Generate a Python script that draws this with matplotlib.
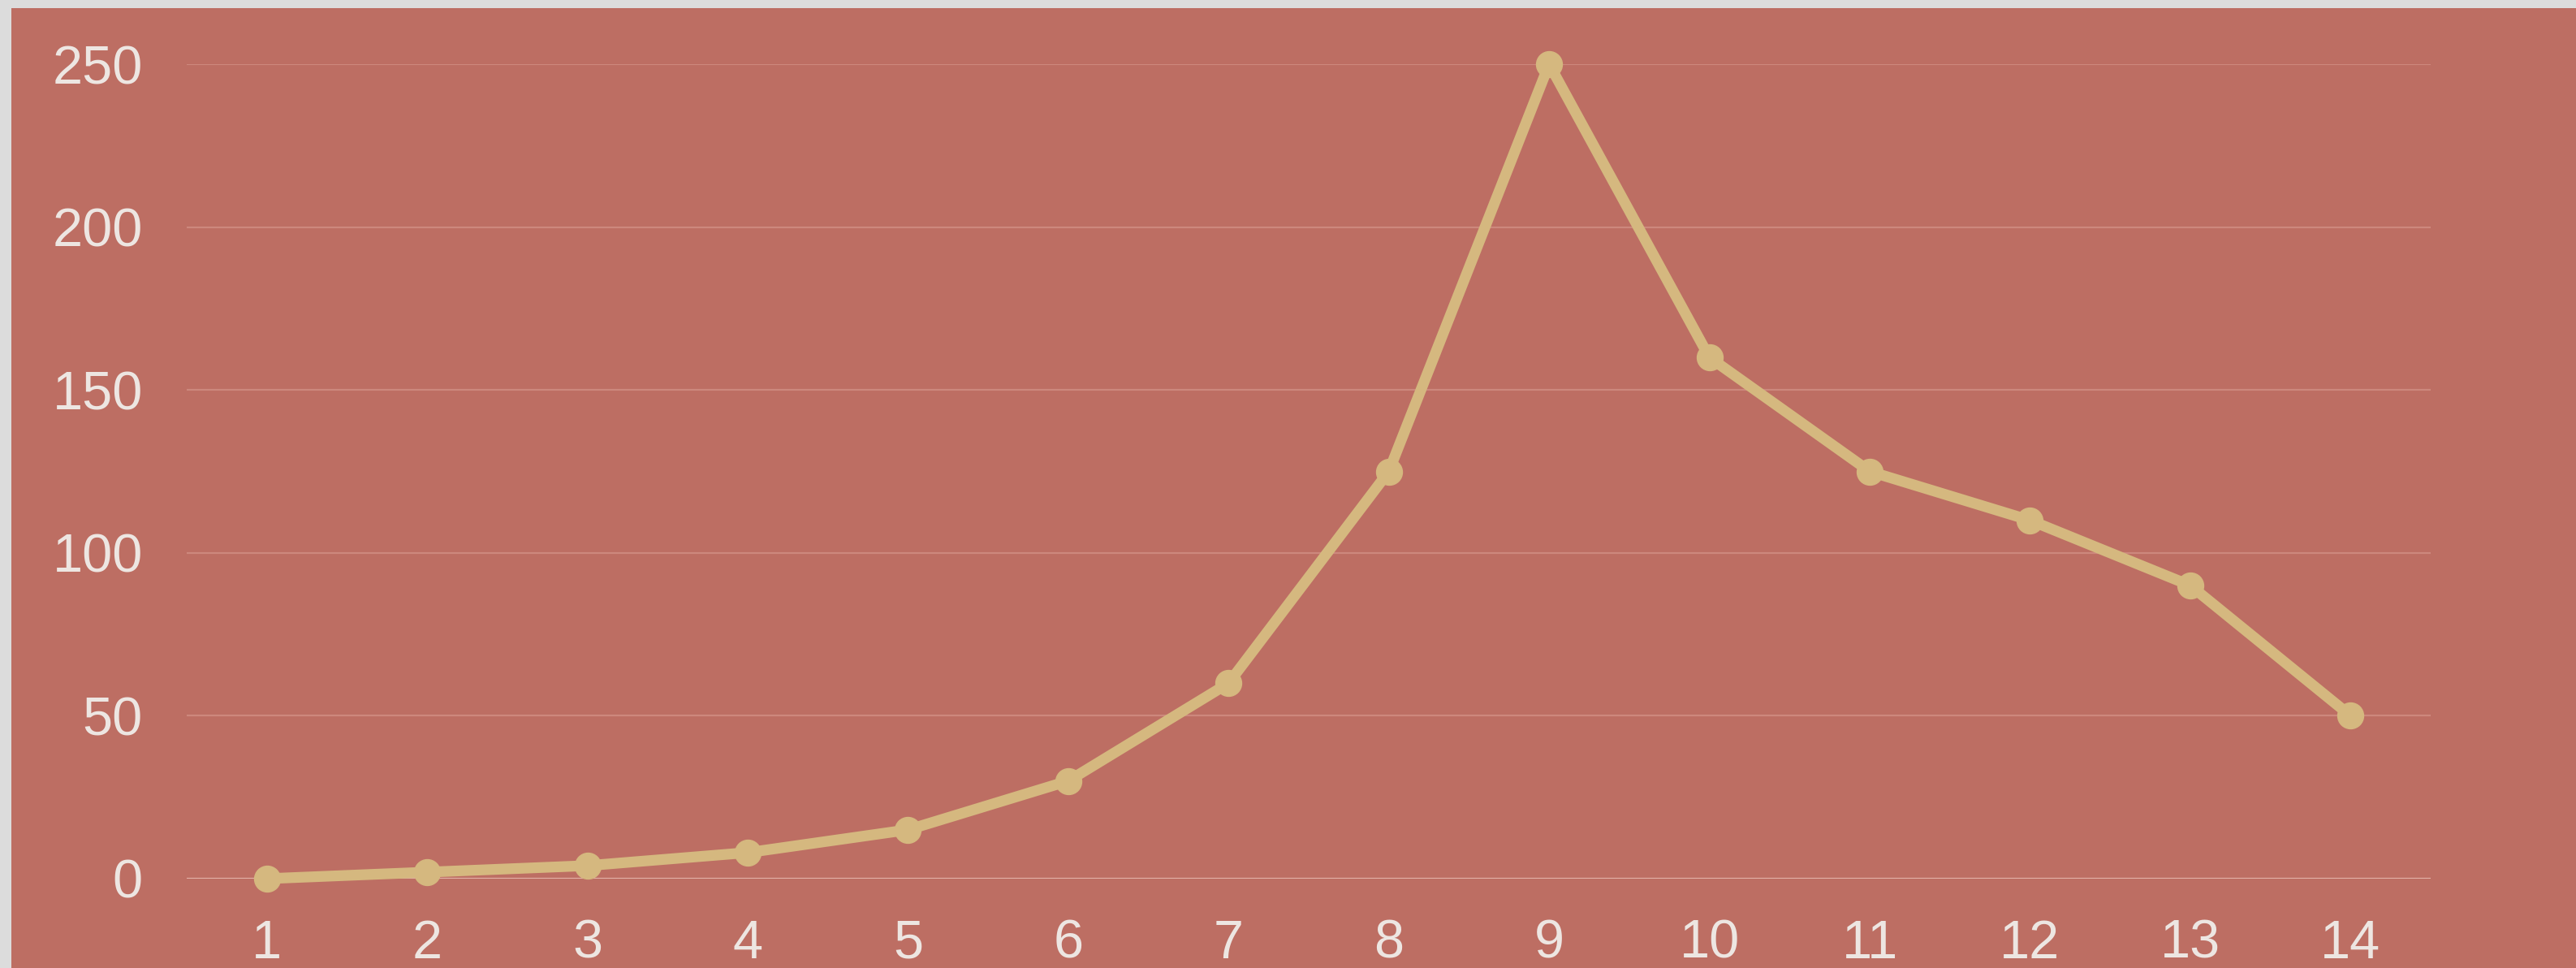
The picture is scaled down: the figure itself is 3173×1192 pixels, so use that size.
import matplotlib.pyplot as plt
import matplotlib.patches as mpatches

# values
x_vals = [1, 2, 3, 4, 5, 6, 7, 8, 9, 10, 11, 12, 13, 14]
y_vals = [0, 2, 4, 8, 15, 30, 60, 125, 250, 160, 125, 110, 90, 50]
y_ticks = [0, 50, 100, 150, 200, 250]

W, H = 3173, 1192
fig = plt.figure(figsize=(W / 100, H / 100), dpi=100, facecolor='#dcdcdc')

# red panel (grey strip left and top)
fig.patches.append(mpatches.Rectangle((14 / W, 0), 1 - 14 / W, 1 - 10 / H,
                                      transform=fig.transFigure, facecolor='#bd6e63',
                                      edgecolor='none', zorder=-5))

# axes box: x 230..2994 px, y 79..1082 px (from top)
ax = fig.add_axes([230 / W, 1 - 1082 / H, (2994 - 230) / W, (1082 - 79) / H])
ax.set_zorder(2)
ax.set_facecolor('none')
ax.set_xlim(0.5, 14.5)
ax.set_ylim(0, 250)

for t in y_ticks:
    col = '#e2b0a6' if t == 0 else '#cd887d'
    ax.axhline(t, color=col, lw=1.6, zorder=1)

ax.plot(x_vals, y_vals, color='#d5b87f', lw=9.5, marker='o', markersize=23,
        solid_capstyle='round', solid_joinstyle='round', zorder=3, clip_on=False)

for s in ax.spines.values():
    s.set_visible(False)
ax.set_xticks(x_vals)
ax.set_yticks(y_ticks)
ax.tick_params(length=0, labelsize=48, labelcolor='#ede6e2', pad=0)
ax.tick_params(axis='y', pad=39)
ax.tick_params(axis='x', pad=36)
for lab in ax.get_xticklabels() + ax.get_yticklabels():
    lab.set_fontfamily('Liberation Sans')

fig.savefig('out.png', dpi=100, facecolor=fig.get_facecolor())
